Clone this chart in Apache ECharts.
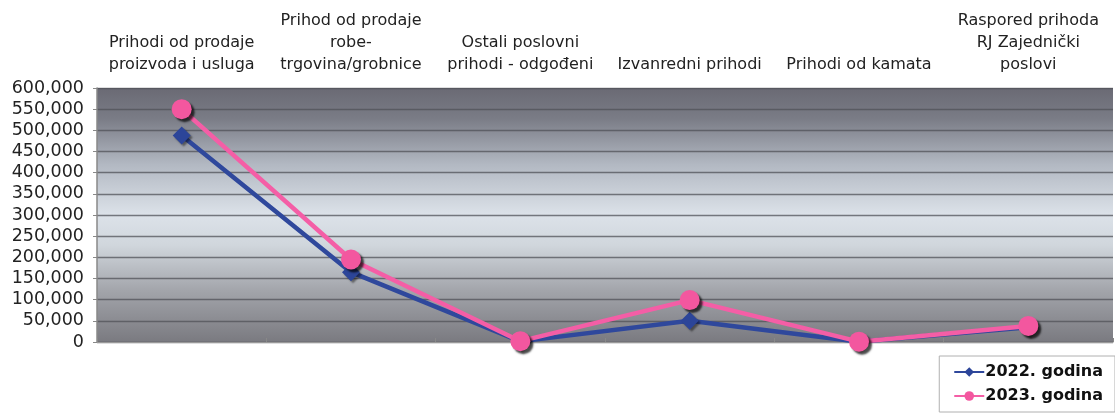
<!DOCTYPE html>
<html><head><meta charset="utf-8">
<script src="https://cdn.jsdelivr.net/npm/echarts@6/dist/echarts.min.js"></script>
<style>html,body{margin:0;padding:0;background:#fff}#c{width:1115px;height:418px}</style>
</head><body><div id="c"></div>
<script>
const categories = [
  "Prihodi od prodaje\nproizvoda i usluga",
  "Prihod od prodaje\nrobe-\ntrgovina/grobnice",
  "Ostali poslovni\nprihodi - odgođeni",
  "Izvanredni prihodi",
  "Prihodi od kamata",
  "Raspored prihoda\nRJ Zajednički\nposlovi"
];
const series2022 = [488000, 165000, 1500, 50000, 500, 35000];
const series2023 = [550000, 195000, 2000, 99000, 800, 38000];
const yTicks = [0, 600000, 50000];

const chart = echarts.init(document.getElementById('c'));
const font = 'DejaVu Sans, Liberation Sans, Arial, sans-serif';
chart.setOption({
  backgroundColor: '#ffffff',
  animation: false,
  grid: { left: 97, right: 2, top: 88, bottom: 76,
    show: true, borderWidth: 0,
    backgroundColor: new echarts.graphic.LinearGradient(0,0,0,1,[
      {offset:0, color:'#6a6a74'},
      {offset:0.12, color:'#7a7c86'},
      {offset:0.3, color:'#b2b8c2'},
      {offset:0.5, color:'#dce2e9'},
      {offset:0.62, color:'#d0d6dc'},
      {offset:0.8, color:'#a2a4aa'},
      {offset:1, color:'#7a7a80'}
    ])
  },
  xAxis: {
    type: 'category', data: categories, position: 'top',
    boundaryGap: true,
    axisLine: { show: true, lineStyle: { color: '#999', width: 1 } },
    axisTick: { show: true, length: 4, inside: false, lineStyle: { color: '#888' } },
    axisLabel: { color: '#222', fontFamily: font, fontSize: 16, lineHeight: 22, margin: 12, interval: 0 },
    splitLine: { show: false }
  },
  yAxis: {
    type: 'value', min: yTicks[0], max: yTicks[1], interval: yTicks[2],
    axisLine: { show: true, lineStyle: { color: '#888', width: 1.5 } },
    axisTick: { show: true, length: 4, lineStyle: { color: '#888' } },
    axisLabel: { color: '#222', fontFamily: font, fontSize: 17.5, margin: 13,
      formatter: v => v.toLocaleString('en-US') },
    splitLine: { show: true, lineStyle: { color: '#505158', width: 1.3, opacity: 0.75 } }
  },
  legend: {
    orient: 'vertical', right: 0, top: 356, itemGap: 8,
    itemWidth: 30, itemHeight: 12,
    padding: [8, 12, 8, 14],
    backgroundColor: '#ffffff', borderColor: '#b0b0b0', borderWidth: 1,
    textStyle: { color: '#111', fontFamily: font, fontSize: 16, fontWeight: 'bold', padding: [0,0,0,-4] },
    data: ['2022. godina', '2023. godina']
  },
  series: [
    { name: '2022. godina', type: 'line', data: series2022,
      symbol: 'diamond', symbolSize: 18,
      itemStyle: { color: '#2c4599', shadowColor: 'rgba(0,0,0,0.45)', shadowOffsetX: 2, shadowOffsetY: 2, shadowBlur: 2 },
      lineStyle: { color: '#2f489c', width: 4.5 }, z: 2 },
    { name: '2023. godina', type: 'line', data: series2023,
      symbol: 'circle', symbolSize: 20,
      itemStyle: { color: '#f3579f', shadowColor: 'rgba(0,0,0,0.7)', shadowOffsetX: 3, shadowOffsetY: 3, shadowBlur: 2 },
      lineStyle: { color: '#f45ea6', width: 4.5 }, z: 3 }
  ]
});
</script></body></html>
